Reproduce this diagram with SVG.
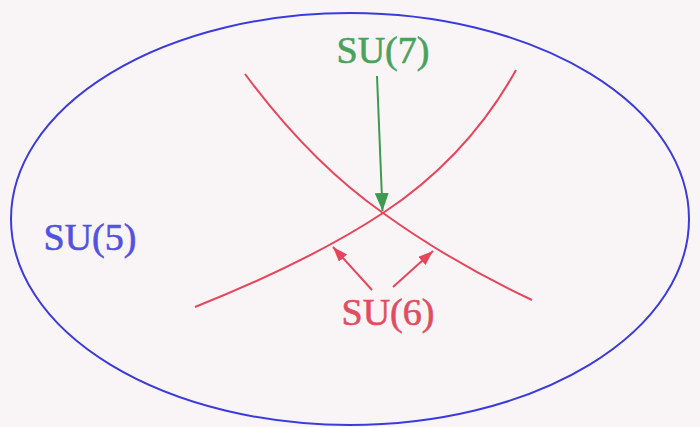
<svg xmlns="http://www.w3.org/2000/svg" width="700" height="427" viewBox="0 0 700 427">
  <style>
    .lbl { font-family: "Liberation Serif", "Times New Roman", serif; font-size: 38px; text-anchor: middle; stroke-width: 0.6; }
    .red { stroke: #e8455a; stroke-width: 2; fill: none; }
  </style>
  <defs>
    <marker id="ahGreen" markerUnits="userSpaceOnUse" markerWidth="20" markerHeight="16" refX="18" refY="7" orient="auto">
      <path d="M0,0 L18,7 L0,14 Z" fill="#3d9a4f"/>
    </marker>
    <marker id="ahRed" markerUnits="userSpaceOnUse" markerWidth="18" markerHeight="14" refX="15" refY="5.5" orient="auto">
      <path d="M0,0 L15,5.5 L0,11 Z" fill="#e8455a"/>
    </marker>
  </defs>
  <rect width="700" height="427" fill="#f9f5f7"/>
  <g id="su5">
    <ellipse cx="350" cy="219" rx="339" ry="206" fill="none" stroke="#3b3bdc" stroke-width="2"/>
    <text class="lbl" x="90" y="250" fill="#5252e0" stroke="#5252e0">SU(5)</text>
  </g>
  <g id="su6">
    <path class="red" d="M245,74 Q310.2,162 383,213 Q450.9,261.9 532,300"/>
    <path class="red" d="M516,70 Q467.6,157 383,213 Q310.7,260.7 195,307"/>
    <text class="lbl" x="388" y="325" fill="#e24c60" stroke="#e24c60">SU(6)</text>
  </g>
  <g id="su7">
    <text class="lbl" x="383" y="63" fill="#4aa25a" stroke="#4aa25a">SU(7)</text>
  </g>
  <g id="connectors">
    <line x1="377" y1="76" x2="382.5" y2="211" stroke="#3d9a4f" stroke-width="2" marker-end="url(#ahGreen)"/>
    <line x1="372" y1="290" x2="333" y2="247" stroke="#e8455a" stroke-width="2" marker-end="url(#ahRed)"/>
    <line x1="393" y1="287" x2="433" y2="251" stroke="#e8455a" stroke-width="2" marker-end="url(#ahRed)"/>
  </g>
</svg>
